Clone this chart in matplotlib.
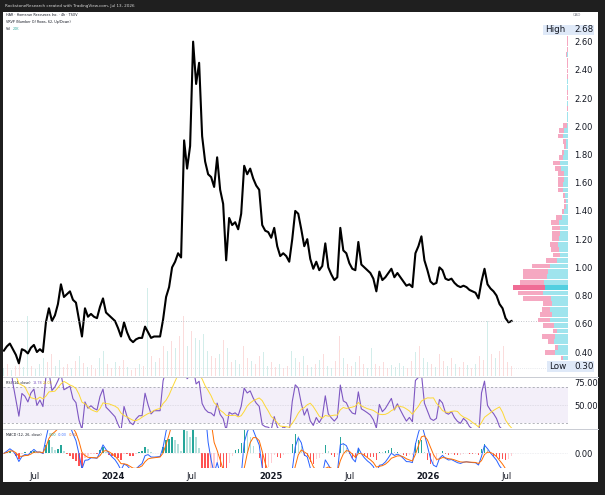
import matplotlib
matplotlib.use("Agg")
import matplotlib.pyplot as plt
from matplotlib.patches import Rectangle
import numpy as np
import pandas as pd

W, H = 605, 495

# --- data --------------------------------------------------------------
start, end = "2023-04-22", "2026-07-13"

close = [0.41, 0.44, 0.46, 0.42, 0.38, 0.32, 0.42, 0.41, 0.39, 0.43, 0.45, 0.40, 0.42, 0.40,
         0.61, 0.71, 0.62, 0.66, 0.74, 0.88, 0.79, 0.81, 0.83, 0.77, 0.75, 0.63, 0.51, 0.71,
         0.65, 0.67, 0.65, 0.64, 0.72, 0.78, 0.68, 0.66, 0.64, 0.62, 0.57, 0.51, 0.61, 0.54,
         0.49, 0.47, 0.49, 0.50, 0.50, 0.58, 0.54, 0.50, 0.51, 0.51, 0.51, 0.63, 0.79, 0.86,
         1.00, 1.04, 1.10, 1.07, 1.90, 1.70, 1.86, 2.60, 2.30, 2.45, 1.93, 1.75, 1.66, 1.64,
         1.57, 1.78, 1.55, 1.45, 1.05, 1.35, 1.30, 1.32, 1.27, 1.38, 1.72, 1.66, 1.70, 1.63,
         1.58, 1.55, 1.30, 1.26, 1.25, 1.21, 1.28, 1.15, 1.08, 1.10, 1.08, 1.04, 1.20, 1.40,
         1.38, 1.27, 1.15, 1.20, 1.06, 0.99, 1.04, 0.98, 1.01, 1.17, 1.00, 0.95, 0.91, 0.93,
         1.28, 1.12, 1.10, 1.03, 0.99, 0.98, 1.18, 1.02, 1.00, 0.98, 0.96, 0.92, 0.83, 0.97,
         0.91, 0.93, 0.96, 0.99, 0.93, 0.96, 0.93, 0.90, 0.87, 0.88, 0.86, 1.10, 1.15, 1.22,
         1.05, 0.98, 0.90, 0.88, 0.89, 1.00, 0.98, 0.92, 0.91, 0.92, 0.89, 0.87, 0.86, 0.87,
         0.86, 0.84, 0.83, 0.82, 0.78, 0.90, 0.99, 0.88, 0.85, 0.83, 0.80, 0.74, 0.71, 0.64,
         0.61, 0.62]

# volume in thousands of shares, u = up bar, d = down bar
volume = [16, 24, 12, 20, 28, 18, 120, 20, 14, 24, 36, 28, 44, 20, 32, 18, 24, 16, 30, 40,
          26, 18, 22, 14, 36, 50, 24, 16, 28, 20, 32, 18, 12, 16, 24, 20, 176, 40, 28, 36,
          60, 50, 70, 56, 80, 120, 60, 90, 76, 72, 84, 50, 40, 36, 44, 72, 56, 28, 32, 24,
          60, 36, 30, 24, 40, 48, 20, 28, 18, 24, 16, 20, 50, 36, 28, 40, 22, 18, 24, 32,
          44, 20, 16, 30, 80, 36, 24, 20, 28, 40, 24, 16, 56, 24, 20, 28, 16, 22, 18, 26,
          20, 16, 30, 48, 60, 36, 28, 24, 18, 44, 30, 20, 36, 24, 18, 28, 22, 16, 24, 40,
          32, 110, 44, 36, 50, 60, 28, 20]
vol_dir = ("ududduuduuudduuddudududdu"
           "uddudduddudududdududduduu"
           "uuddududuuddudduuddudduud"
           "udududuudduddudduudddduuu"
           "udduduududdududdududdudud"
           "ddd")

# volume profile, 62 rows from low to high (total / up part)
vp_low, vp_high, vp_rows = 0.30, 2.68, 62
vp_total = [3, 7.3, 23, 13, 19.7, 26.3, 15.3, 24.7, 29.7, 28, 26.3, 25.3, 45, 50, 55, 48,
            45, 44.7, 36.5, 22.3, 14.7, 17, 18, 16.3, 15.7, 15.7, 17.3, 12.3, 5.7, 3.7, 3.7,
            5, 9.7, 10.3, 9.7, 9.7, 13, 14.7, 9, 6.3, 3.7, 4.7, 9.7, 9, 4.7, 1.3, 1.0, 0.8,
            1.2, 0.8, 0.7, 1.5, 1.2, 0.8, 0.6, 0.7, 1.4, 1.6, 0.8, 0.7, 0.6, 0.6]
vp_up = [2, 4.7, 13, 9.7, 14, 13, 10.7, 14, 18, 16.3, 18, 16.3, 17.5, 25, 23.5, 24, 21.5,
         20.5, 18.5, 10.7, 8, 9, 9.7, 9, 8, 8, 9, 6.3, 3.7, 2.3, 2, 3.3, 4.7, 4.7, 4.3, 4.3,
         7, 8, 4.7, 3.7, 2.3, 2.3, 4.7, 3.7, 1.3, 0.7, 0.6, 0.5, 0.6, 0.5, 0.5, 0.6, 0.6,
         0.5, 0.4, 0.5, 0.5, 0.6, 0.5, 0.5, 0.4, 0.4]
poc_row = 14

price_ticks = [0.40, 0.60, 0.80, 1.00, 1.20, 1.40, 1.60, 1.80, 2.00, 2.20, 2.40, 2.60]
x_ticks = ["2023-07-01", "2024-01-01", "2024-07-01", "2025-01-01", "2025-07-01",
           "2026-01-01", "2026-07-01"]
x_labels = ["Jul", "2024", "Jul", "2025", "Jul", "2026", "Jul"]

# --- derived series ------------------------------------------------------
dates = pd.date_range(start, end, periods=len(close))
vol_dates = pd.date_range(start, end, periods=len(volume))
s = pd.Series(close)

# shorter windows than 14/12/26 because each point here stands for many 4h bars
delta = s.diff()
n = 5
gain = delta.clip(lower=0).ewm(alpha=1 / n, adjust=False).mean()
loss = (-delta.clip(upper=0)).ewm(alpha=1 / n, adjust=False).mean()
rsi = 100 - 100 / (1 + gain / loss.replace(0, 1e-9))
rsi_ma = rsi.rolling(7, min_periods=1).mean()

ema_fast = s.ewm(span=4, adjust=False).mean()
ema_slow = s.ewm(span=9, adjust=False).mean()
macd = ema_fast - ema_slow
signal = macd.ewm(span=4, adjust=False).mean()
hist = macd - signal


def rect(x0, y0, x1, y1):
    return [x0 / W, 1 - y1 / H, (x1 - x0) / W, (y1 - y0) / H]


fig = plt.figure(figsize=(W / 100, H / 100), dpi=100, facecolor="#1f1f1f")
fig.add_artist(Rectangle((3 / W, 1 - 482 / H), 595 / W, 470 / H, transform=fig.transFigure,
                         fc="white", ec="none", zorder=0))

text_col = "#131722"
xl = (pd.Timestamp("2023-04-20"), pd.Timestamp("2026-11-21"))

# volume layer (behind price)
ax_vol = fig.add_axes(rect(3, 12, 568, 376))
ax_vol.set_facecolor("none")
vcols = ["#26a69a" if c == "u" else "#ef5350" for c in vol_dir[:len(volume)]]
ax_vol.bar(vol_dates, volume, width=2.2, color=vcols, alpha=0.2, linewidth=0)
ax_vol.set_ylim(0, 728)
ax_vol.set_xlim(xl)
ax_vol.axis("off")

# price pane
ax = fig.add_axes(rect(3, 12, 568, 376), sharex=ax_vol)
ax.set_facecolor("none")
ax.plot(dates, close, color="black", lw=1.5)
ax.axhline(close[-1], color="#b2b5be", lw=0.6, ls=(0, (1, 2)))
ax.axhline(0.29, color="#d1d4dc", lw=0.5, ls=(0, (1, 2)))
ax.set_ylim(0.23, 2.81)
ax.yaxis.tick_right()
ax.set_yticks(price_ticks)
ax.set_yticklabels([f"{v:.2f}" for v in price_ticks])
ax.tick_params(axis="y", length=0, pad=4.5, labelsize=6, labelcolor=text_col)
ax.tick_params(axis="x", length=0, labelbottom=False)
for sp in ax.spines.values():
    sp.set_visible(False)

# visible range volume profile
ax_vp = fig.add_axes(rect(3, 12, 568, 376), sharey=ax)
ax_vp.set_facecolor("none")
row_h = (vp_high - vp_low) / vp_rows
centers = [vp_low + (i + 0.5) * row_h for i in range(vp_rows)]
right = 565
for i, (tot, up) in enumerate(zip(vp_total, vp_up)):
    down = tot - up
    cu, cd = ("#52cfe0", "#ef6c95") if i == poc_row else ("#9fe4ed", "#f5a8c1")
    ax_vp.barh(centers[i], -up, left=right, height=row_h * 0.88, color=cu, lw=0)
    ax_vp.barh(centers[i], -down, left=right - up, height=row_h * 0.88, color=cd, lw=0)
ax_vp.set_xlim(0, 565)
ax_vp.axis("off")

# RSI pane
ax_rsi = fig.add_axes(rect(3, 377, 568, 428), sharex=ax_vol)
ax_rsi.axhspan(30, 70, color="#7e57c2", alpha=0.09, lw=0)
ax_rsi.axhline(70, color="#9598a1", lw=0.5, ls=(0, (3, 3)))
ax_rsi.axhline(50, color="#9598a1", lw=0.4, ls=(0, (1, 2)), alpha=0.6)
ax_rsi.axhline(30, color="#9598a1", lw=0.5, ls=(0, (3, 3)))
ax_rsi.plot(dates, rsi, color="#7e57c2", lw=0.8)
ax_rsi.plot(dates, rsi_ma, color="#fdd835", lw=0.7)
ax_rsi.set_ylim(25, 80.5)
ax_rsi.yaxis.tick_right()
ax_rsi.set_yticks([50, 75])
ax_rsi.set_yticklabels(["50.00", "75.00"])
ax_rsi.tick_params(axis="y", length=0, pad=4.5, labelsize=6, labelcolor=text_col)
ax_rsi.tick_params(axis="x", length=0, labelbottom=False)
for sp in ax_rsi.spines.values():
    sp.set_visible(False)

# MACD pane
ax_m = fig.add_axes(rect(3, 429, 568, 468), sharex=ax_vol)
hcols = []
for i, h in enumerate(hist):
    prev = hist.iloc[i - 1] if i > 0 else h
    if h >= 0:
        hcols.append("#26a69a" if h >= prev else "#b2dfdb")
    else:
        hcols.append("#ff5252" if h < prev else "#ffcdd2")
ax_m.bar(dates, hist, width=3.0, color=hcols, lw=0)
ax_m.plot(dates, macd, color="#2962ff", lw=0.7)
ax_m.plot(dates, signal, color="#ff6d00", lw=0.7)
q = np.percentile(np.abs(macd), 60)
ax_m.set_ylim(-q, q * 25 / 15)
ax_m.axhline(0, color="#d1d4dc", lw=0.4, ls=(0, (1, 2)))
ax_m.yaxis.tick_right()
ax_m.set_yticks([0])
ax_m.set_yticklabels(["0.00"])
ax_m.tick_params(axis="y", length=0, pad=4.5, labelsize=6, labelcolor=text_col)
ax_m.set_xticks(pd.to_datetime(x_ticks))
ax_m.set_xticklabels(x_labels)
ax_m.tick_params(axis="x", length=0, pad=3, labelsize=6, labelcolor=text_col)
for lab in ax_m.get_xticklabels():
    if lab.get_text().isdigit():
        lab.set_fontweight("bold")
for sp in ax_m.spines.values():
    sp.set_visible(False)
ax_m.set_xlim(xl)

# pane dividers
for yy in (376.5, 428.5):
    fig.add_artist(plt.Line2D([3 / W, 598 / W], [1 - yy / H, 1 - yy / H],
                              transform=fig.transFigure, color="#c9ccd3", lw=0.7))


def ftext(x, y, t, **kw):
    kw.setdefault("va", "center")
    kw.setdefault("ha", "left")
    return fig.text(x / W, 1 - y / H, t, **kw)


small = 2.4
ftext(5, 6, "RockstoneResearch created with TradingView.com, Jul 13, 2026",
      fontsize=3.0, color="#d6d6d6")
ftext(6, 15, "HAR · Homerun Resources Inc. · 4h · TSXV", fontsize=small, color=text_col)
ftext(6, 22, "VRVP (Number Of Rows, 62, Up/Down)", fontsize=small, color=text_col)
ftext(6, 28.5, "Vol", fontsize=small, color=text_col)
ftext(13, 28.5, "20K", fontsize=small, color="#26a69a")
ftext(573, 15, "CAD", fontsize=2.8, color="#787b86")

ftext(6, 383, "RSI (14, close)", fontsize=small, color=text_col)
ftext(33, 383, f"{rsi.iloc[-1]:.2f}", fontsize=small, color="#7e57c2")
ftext(43, 383, f"{rsi_ma.iloc[-1]:.2f}", fontsize=small, color="#e0b800")
ftext(6, 435, "MACD (12, 26, close)", fontsize=small, color=text_col)
ftext(49, 435, "0.00", fontsize=small, color="#26a69a")
ftext(58, 435, "-0.03", fontsize=small, color="#2962ff")
ftext(69, 435, "-0.02", fontsize=small, color="#ff6d00")

# high / low tags
for y0, y1, lab, val in ((25, 35, "High", f"{vp_high:.2f}"), (361, 372, "Low", f"{vp_low:.2f}")):
    x0 = 543 if lab == "High" else 547
    fig.add_artist(Rectangle((x0 / W, 1 - y1 / H), (594 - x0) / W, (y1 - y0) / H,
                             transform=fig.transFigure, fc="#dfe9f8", ec="none", zorder=5))
    ftext(x0 + 2, (y0 + y1) / 2, lab, fontsize=6.3, color=text_col, zorder=6)
    ftext(574, (y0 + y1) / 2, val, fontsize=6.3, color=text_col, zorder=6)

fig.savefig("out.png", dpi=100, facecolor=fig.get_facecolor())
